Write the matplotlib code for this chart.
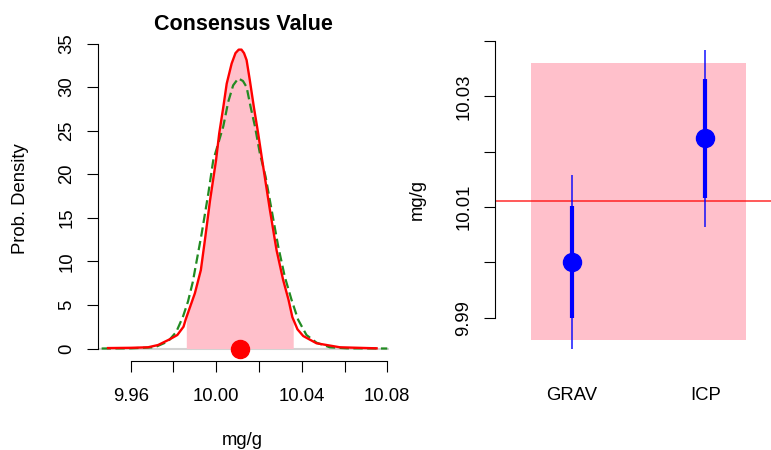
import numpy as np
import matplotlib.pyplot as plt
from matplotlib.patches import Rectangle

plt.rcParams["font.family"] = ["Liberation Sans", "DejaVu Sans"]

# bootstrap density of the consensus value (solid red)
dens_x = [9.9494, 9.9600, 9.9681, 9.9728, 9.9782, 9.9818, 9.9847, 9.9858,
          9.9878, 9.9900, 9.9928, 9.9947, 9.9971, 9.9999, 10.0014, 10.0033,
          10.0049, 10.0072, 10.0090, 10.0105, 10.0118, 10.0130, 10.0142,
          10.0157, 10.0176, 10.0196, 10.0215, 10.0251, 10.0282, 10.0313,
          10.0338, 10.0356, 10.0380, 10.0407, 10.0469, 10.0578, 10.0750]
dens_y = [0.05, 0.08, 0.14, 0.40, 1.05, 1.55, 2.50, 3.40,
          4.80, 6.33, 9.00, 12.45, 17.0, 21.6, 24.7, 27.7,
          30.4, 32.7, 33.9, 34.3, 34.3, 33.9, 33.1,
          30.8, 27.7, 24.7, 21.6, 15.9, 11.3, 7.86,
          5.6, 3.6, 2.2, 1.43, 0.60, 0.14, 0.02]

# gaussian approximation (dashed green)
gauss_x = [9.9464, 9.9600, 9.9712, 9.9774, 9.9813, 9.9845, 9.9868, 9.9890,
           9.9932, 9.9963, 9.9986, 10.0033, 10.0056, 10.0079, 10.0103,
           10.0125, 10.0142, 10.0161, 10.0181, 10.0204, 10.0231, 10.0259,
           10.0290, 10.0321, 10.0352, 10.0383, 10.0422, 10.0469, 10.0531,
           10.0610, 10.0800]
gauss_y = [0.0, 0.02, 0.14, 0.80, 1.90, 3.70, 5.40, 7.60,
           13.2, 17.8, 21.6, 25.5, 28.3, 30.2, 31.0,
           30.7, 30.0, 27.7, 25.5, 22.4, 19.7, 15.9,
           11.7, 8.2, 5.6, 3.3, 1.55, 0.67, 0.14,
           0.02, 0.0]

consensus = 10.011
interval = (9.986, 10.036)

methods = ["GRAV", "ICP"]
method_values = [10.000, 10.0224]
std_unc = [0.0101, 0.0107]
exp_unc = [0.0157, 0.0160]

dens_ticks = [0, 5, 10, 15, 20, 25, 30, 35]
x_ticks = [9.96, 9.98, 10.00, 10.02, 10.04, 10.06, 10.08]
x_tick_labels = ["9.96", "", "10.00", "", "10.04", "", "10.08"]
val_ticks = [9.99, 10.00, 10.01, 10.02, 10.03, 10.04]
val_tick_labels = ["9.99", "", "10.01", "", "10.03", ""]

W, H = 771, 450
fig = plt.figure(figsize=(W / 100, H / 100), dpi=100)


def axes_px(left, top, right, bottom):
    return fig.add_axes([left / W, 1 - bottom / H, (right - left) / W, (bottom - top) / H])


def style_axis(ax):
    for side in ("top", "right"):
        ax.spines[side].set_visible(False)
    for sp in ax.spines.values():
        sp.set_linewidth(0.8)
    ax.tick_params(length=8, width=0.8, labelsize=13.3)


# left panel: consensus density
ax1 = axes_px(98, 37, 389, 361)
style_axis(ax1)
ax1.axhline(0, color="lightgray", lw=1.5, zorder=1)

dx = np.asarray(dens_x)
dy = np.asarray(dens_y)
inside = (dx > interval[0]) & (dx < interval[1])
fx = np.concatenate([[interval[0]], dx[inside], [interval[1]]])
fy = np.concatenate([[np.interp(interval[0], dx, dy)], dy[inside],
                     [np.interp(interval[1], dx, dy)]])
ax1.fill_between(fx, 0, fy, color="pink", lw=0, zorder=2)

ax1.plot(gauss_x, gauss_y, color="forestgreen", lw=1.6, dashes=(4.2, 2.0), zorder=3)
ax1.plot(dens_x, dens_y, color="red", lw=1.7, zorder=4, solid_joinstyle="round")
ax1.plot([consensus], [0], "o", color="red", ms=13, zorder=5, clip_on=False)

ax1.set_xlim(9.9447, 10.0808)
ax1.set_ylim(-1.434, 35.75)
ax1.spines["left"].set_bounds(0, 35)
ax1.spines["bottom"].set_bounds(9.96, 10.08)
ax1.set_xticks(x_ticks)
ax1.set_xticklabels(x_tick_labels)
ax1.set_yticks(dens_ticks)
ax1.set_yticklabels([str(t) for t in dens_ticks], rotation=90, va="center")
ax1.tick_params(axis="x", pad=11.5)
ax1.tick_params(axis="y", pad=8.2)

# right panel: method results
ax2 = axes_px(494.7, 37, 782.6, 361)
style_axis(ax2)
ax2.spines["bottom"].set_visible(False)
ax2.add_patch(Rectangle((0.692, interval[0]), 2.305 - 0.692, interval[1] - interval[0],
                        color="pink", lw=0, zorder=1))
ax2.axhline(consensus, color="red", alpha=0.7, lw=1.3, zorder=2)
for i, (v, u, U) in enumerate(zip(method_values, std_unc, exp_unc)):
    x = i + 1
    ax2.vlines(x, v - U, v + U, color="blue", lw=1.2, alpha=0.85, zorder=3)
    ax2.vlines(x, v - u, v + u, color="blue", lw=3, zorder=4)
    ax2.plot([x], [v], "o", color="blue", ms=13, zorder=5)

ax2.set_xlim(0.42, 2.58)
ax2.set_ylim(9.9822, 10.0407)
ax2.spines["left"].set_bounds(9.99, 10.04)
ax2.set_xticks([1, 2])
ax2.set_xticklabels(methods)
ax2.tick_params(axis="x", length=0, pad=18.4)
ax2.set_yticks(val_ticks)
ax2.set_yticklabels(val_tick_labels, rotation=90, va="center")
ax2.tick_params(axis="y", pad=8.2)

# titles and axis labels
fig.text(243 / W, 1 - 30 / H, "Consensus Value", ha="center", va="baseline",
         fontsize=15.5, fontweight="bold")
fig.text(242.5 / W, 1 - 445 / H, "mg/g", ha="center", va="baseline", fontsize=13.3)
fig.text(21 / W, 1 - 199 / H, "Prob. Density", ha="center", va="center",
         rotation=90, fontsize=13.3)
fig.text(417.5 / W, 1 - 200 / H, "mg/g", ha="center", va="center",
         rotation=90, fontsize=13.3)

fig.savefig("out.png", dpi=100)
